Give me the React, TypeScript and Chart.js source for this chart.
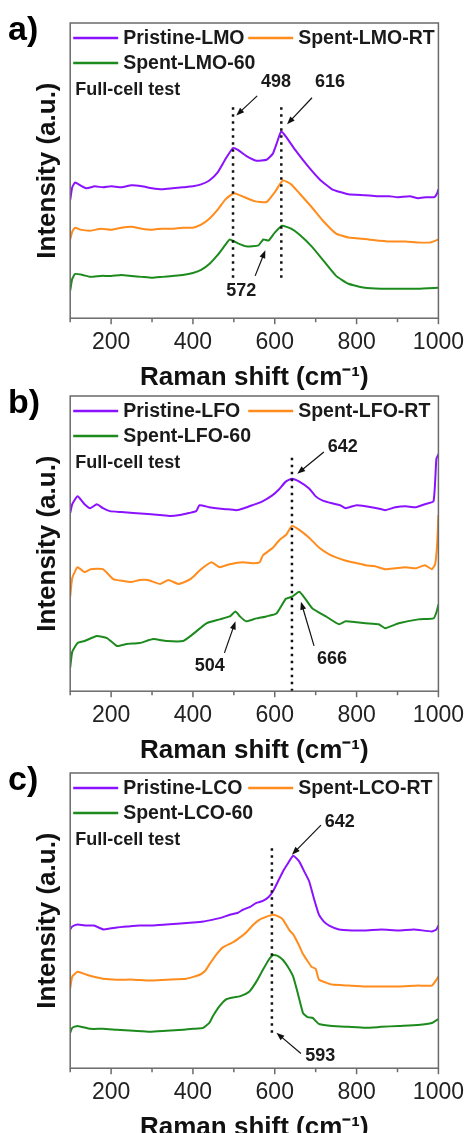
import React, { useEffect, useRef } from "react";
import { Chart, registerables } from "chart.js";

Chart.register(...registerables);

// ---------- Panel a: LMO ----------
const lmoPristineX = [100,105,112,125,140,160,180,200,225,250,275,300,325,350,375,400,420,440,460,480,498,510,530,555,580,595,605,616,630,650,680,710,740,780,820,850,880,900,930,950,970,990,997,1000];
const lmoPristineY = [120,133,138,135,132,134,133,134,133,135,134,132,131,132,133,134,136,140,148,162,173,171,165,160,161,167,178,190,183,171,155,141,131,126,125,124,124,123,124,122,123,123,127,131];
const lmoRtX = [100,105,112,125,150,175,200,225,250,275,300,325,350,375,400,420,440,460,480,500,520,550,580,600,620,640,660,690,720,750,780,830,880,920,950,980,1000];
const lmoRtY = [80,88,92,90,89,91,90,92,93,91,90,91,91,92,92,95,101,110,121,127,124,119,118,128,140,136,127,113,98,86,82,80,78,78,77,77,80];
const lmo60X = [100,105,112,130,150,175,200,225,250,275,300,325,350,375,400,420,440,460,480,490,510,530,560,572,585,600,618,640,660,690,720,750,780,820,860,900,950,1000];
const lmo60Y = [28,40,45,44,42,43,43,44,43,42,41,42,43,44,46,49,55,64,75,80,76,73,74,80,79,87,94,91,85,73,58,43,35,31,30,30,30,31];
const lmoLabels = ["Pristine-LMO", "Spent-LMO-RT", "Spent-LMO-60"];
const lmoMarkers = [498, 616];
const lmoMarkerSpan = [41, 215];

// ---------- Panel b: LFO ----------
const lfoPristineX = [100,105,118,135,149,165,180,197,225,254,290,319,345,368,390,408,416,440,457,480,506,525,545,570,594,610,627,642,660,684,700,716,740,760,773,800,822,850,870,895,919,945,967,988,995,1000];
const lfoPristineY = [181,190,198,190,186,190,186,183,182,181,180,179,178,179,181,183,189,187,186,185,184,186,189,193,199,205,213,216,213,206,198,194,191,189,186,189,188,186,184,187,188,187,190,193,236,241];
const lfoRtX = [100,105,118,135,150,180,205,230,250,270,290,320,340,365,390,400,417,445,465,490,522,545,563,571,596,612,628,642,660,684,708,733,750,770,790,822,845,870,895,919,945,967,984,992,997,1000];
const lfoRtY = [96,115,126,121,124,124,114,112,111,113,113,109,113,109,113,116,123,131,126,129,131,130,131,138,146,154,159,168,164,156,146,139,136,133,131,128,127,124,125,126,125,128,124,129,150,179];
const lfo60X = [100,105,118,135,165,190,214,238,270,303,335,376,400,433,465,490,504,515,530,555,579,604,627,642,660,676,692,725,757,773,800,822,854,870,903,951,988,995,1000];
const lfo60Y = [24,40,49,51,56,54,46,48,49,53,51,51,58,69,73,76,81,76,71,74,76,79,94,96,101,93,84,76,68,71,70,69,68,64,69,73,74,80,88];
const lfoLabels = ["Pristine-LFO", "Spent-LFO-RT", "Spent-LFO-60"];
const lfoMarkers = [642];
const lfoMarkerSpan = [0, 241];

// ---------- Panel c: LCO ----------
const lcoPristineX = [100,105,118,140,158,182,214,240,270,300,335,370,400,425,449,470,490,510,522,540,555,571,585,596,608,620,632,645,660,672,684,696,708,720,733,757,790,822,860,903,940,984,995,1000];
const lcoPristineY = [141,144,146,145,145,141,143,144,145,145,146,147,148,149,151,153,156,158,161,164,168,170,174,180,190,200,208,216,210,200,190,172,156,149,145,141,140,140,141,140,141,139,141,145];
const lcoRtX = [100,105,118,140,158,180,214,254,295,335,384,417,430,441,458,474,498,515,530,548,563,580,596,610,620,636,645,658,669,680,690,700,708,725,740,780,822,860,903,950,984,1000];
const lcoRtY = [81,93,98,95,93,91,90,90,89,90,91,95,99,106,116,123,128,133,138,146,151,154,156,154,151,140,136,126,116,109,103,101,90,87,85,84,83,83,83,84,84,93];
const lco60X = [100,105,118,149,180,214,255,295,335,376,400,425,440,449,465,481,500,514,538,555,571,585,596,608,620,632,645,657,669,680,693,700,708,740,780,822,860,903,950,984,1000];
const lco60Y = [36,41,43,40,40,39,38,37,38,39,40,41,46,53,63,70,72,73,78,88,100,110,115,114,110,103,93,75,56,52,51,48,45,43,42,41,42,43,44,46,50];
const lcoLabels = ["Pristine-LCO", "Spent-LCO-RT", "Spent-LCO-60"];
const lcoMarkers = [593];
const lcoMarkerSpan = [36, 225];

// ---------- Shared axis ----------
const xMin = 100;
const xMax = 1000;
const xStep = 100;
const xTickLabels = ["200", "400", "600", "800", "1000"];
const yMin = 0;
const yMax = 300;

// annotations: [text, labelX, labelY, arrowFromX, arrowFromY, arrowToX, arrowToY] in data units
type Ann = [string, number, number, number, number, number, number];
const lmoAnnotations: Ann[] = [
  ["498", 603, 240, 557, 226, 506, 206],
  ["616", 735, 240, 691, 224, 630, 197],
  ["572", 518, 28, 552, 43, 577, 69],
];
const lfoAnnotations: Ann[] = [
  ["642", 766, 248, 720, 243, 655, 221],
  ["504", 441, 26, 477, 39, 504, 71],
  ["666", 740, 33, 696, 46, 664, 91],
];
const lcoAnnotations: Ann[] = [
  ["642", 759, 250, 713, 247, 642, 217],
  ["593", 711, 12, 664, 15, 604, 36],
];

const COLORS = ["#8a12ff", "#ff8c1c", "#1d8a1d"];
const FRAME = "#6a6a6a";
const FONT = "'Liberation Sans', Arial, sans-serif";

type PanelDef = {
  tag: string;
  labels: string[];
  xs: number[][];
  ys: number[][];
  markers: number[];
  span: number[];
  anns: Ann[];
  top: number;
};

const panels: PanelDef[] = [
  { tag: "a)", labels: lmoLabels, xs: [lmoPristineX, lmoRtX, lmo60X], ys: [lmoPristineY, lmoRtY, lmo60Y], markers: lmoMarkers, span: lmoMarkerSpan, anns: lmoAnnotations, top: 0 },
  { tag: "b)", labels: lfoLabels, xs: [lfoPristineX, lfoRtX, lfo60X], ys: [lfoPristineY, lfoRtY, lfo60Y], markers: lfoMarkers, span: lfoMarkerSpan, anns: lfoAnnotations, top: 373 },
  { tag: "c)", labels: lcoLabels, xs: [lcoPristineX, lcoRtX, lco60X], ys: [lcoPristineY, lcoRtY, lco60Y], markers: lcoMarkers, span: lcoMarkerSpan, anns: lcoAnnotations, top: 750 },
];

function drawArrow(ctx: CanvasRenderingContext2D, x1: number, y1: number, x2: number, y2: number) {
  const ang = Math.atan2(y2 - y1, x2 - x1);
  const L = 8, W = 3;
  ctx.beginPath();
  ctx.moveTo(x1, y1);
  ctx.lineTo(x2 - Math.cos(ang) * L * 0.8, y2 - Math.sin(ang) * L * 0.8);
  ctx.strokeStyle = "#111";
  ctx.lineWidth = 1.2;
  ctx.stroke();
  ctx.beginPath();
  ctx.moveTo(x2, y2);
  ctx.lineTo(x2 - Math.cos(ang) * L - Math.sin(ang) * W, y2 - Math.sin(ang) * L + Math.cos(ang) * W);
  ctx.lineTo(x2 - Math.cos(ang) * L + Math.sin(ang) * W, y2 - Math.sin(ang) * L - Math.cos(ang) * W);
  ctx.closePath();
  ctx.fillStyle = "#111";
  ctx.fill();
}

function makePlugin(p: PanelDef) {
  return {
    id: "decor" + p.tag,
    afterDraw(chart: any) {
      const { ctx, chartArea: a, scales } = chart;
      const x = scales.x, y = scales.y;
      ctx.save();
      // frame
      ctx.strokeStyle = FRAME;
      ctx.lineWidth = 1.5;
      ctx.strokeRect(a.left, a.top, a.right - a.left, a.bottom - a.top);
      // tick marks
      x.ticks.forEach((t: any) => {
        const px = x.getPixelForValue(t.value);
        const major = t.value % 200 === 0;
        ctx.beginPath();
        ctx.moveTo(px, a.bottom);
        ctx.lineTo(px, a.bottom + (major ? 6 : 4));
        ctx.stroke();
      });
      // legend
      ctx.font = `bold 19.5px ${FONT}`;
      ctx.textBaseline = "middle";
      ctx.textAlign = "left";
      const pos = [
        [a.left + 3, a.top + 15],
        [a.left + 178, a.top + 15],
        [a.left + 3, a.top + 40],
      ];
      p.labels.forEach((lab, i) => {
        const [lx, ly] = pos[i];
        ctx.beginPath();
        ctx.moveTo(lx, ly);
        ctx.lineTo(lx + 45, ly);
        ctx.strokeStyle = COLORS[i];
        ctx.lineWidth = 2.5;
        ctx.stroke();
        ctx.fillStyle = "#1a1a1a";
        ctx.fillText(lab, lx + 50, ly + 1);
      });
      // full-cell test
      ctx.font = `bold 18px ${FONT}`;
      ctx.fillStyle = "#1a1a1a";
      ctx.fillText("Full-cell test", a.left + 5, a.top + 67);
      // annotations
      p.anns.forEach(([txt, tx, ty, fx, fy, ex, ey]) => {
        ctx.font = `bold 18px ${FONT}`;
        ctx.textAlign = "center";
        ctx.fillStyle = "#1a1a1a";
        ctx.fillText(txt, x.getPixelForValue(tx), y.getPixelForValue(ty));
        drawArrow(ctx, x.getPixelForValue(fx), y.getPixelForValue(fy), x.getPixelForValue(ex), y.getPixelForValue(ey));
      });
      // panel tag
      ctx.font = `bold 34px ${FONT}`;
      ctx.textAlign = "left";
      ctx.textBaseline = "alphabetic";
      ctx.fillStyle = "#000";
      ctx.fillText(p.tag, 8, a.top + 17);
      ctx.restore();
    },
  };
}

function PanelChart({ p }: { p: PanelDef }) {
  const ref = useRef<HTMLCanvasElement>(null);
  useEffect(() => {
    const markerSets = p.markers.map((m) => ({
      data: [{ x: m, y: p.span[0] }, { x: m, y: p.span[1] }],
      borderColor: "#111",
      borderWidth: 2.5,
      borderDash: [2.5, 4.5],
      pointRadius: 0,
      fill: false,
    }));
    const series = p.xs.map((xs, i) => ({
      label: p.labels[i],
      data: xs.map((xv, j) => ({ x: xv, y: p.ys[i][j] })),
      borderColor: COLORS[i],
      borderWidth: 2,
      pointRadius: 0,
      tension: 0.15,
      fill: false,
    }));
    const chart = new Chart(ref.current as HTMLCanvasElement, {
      type: "line",
      data: { datasets: [...markerSets, ...series] as any },
      options: {
        animation: false,
        responsive: false,
        layout: { padding: { top: 23, left: 0, right: 29, bottom: 0 } },
        plugins: { legend: { display: false }, tooltip: { enabled: false } },
        scales: {
          x: {
            type: "linear",
            min: xMin,
            max: xMax,
            grid: { display: false, drawTicks: true, tickLength: 6 },
            border: { display: false },
            ticks: {
              stepSize: xStep,
              autoSkip: false,
              maxRotation: 0,
              padding: 5,
              color: "#222",
              font: { family: FONT, size: 23 },
              callback: (v: any) => (xTickLabels.includes(String(v)) ? String(v) : ""),
            },
            title: {
              display: true,
              text: "Raman shift (cm⁻¹)",
              color: "#111",
              font: { family: FONT, size: 26, weight: "bold" },
              padding: { top: 0, bottom: 0 },
            },
          },
          y: {
            min: yMin,
            max: yMax,
            grid: { display: false, drawTicks: false },
            border: { display: false },
            ticks: { display: false },
            title: {
              display: true,
              text: "Intensity (a.u.)",
              color: "#111",
              font: { family: FONT, size: 26, weight: "bold" },
              padding: { top: 32, bottom: 7 },
            },
          },
        },
      },
      plugins: [makePlugin(p)],
    });
    return () => chart.destroy();
  }, [p]);
  return (
    <canvas
      ref={ref}
      width={469}
      height={393}
      style={{ position: "absolute", left: 0, top: p.top, width: 469, height: 393 }}
    />
  );
}

export default function App() {
  return (
    <div style={{ position: "absolute", left: 0, top: 0, width: 469, height: 1133, overflow: "hidden", background: "#fff" }}>
      {panels.map((p) => (
        <PanelChart key={p.tag} p={p} />
      ))}
    </div>
  );
}
